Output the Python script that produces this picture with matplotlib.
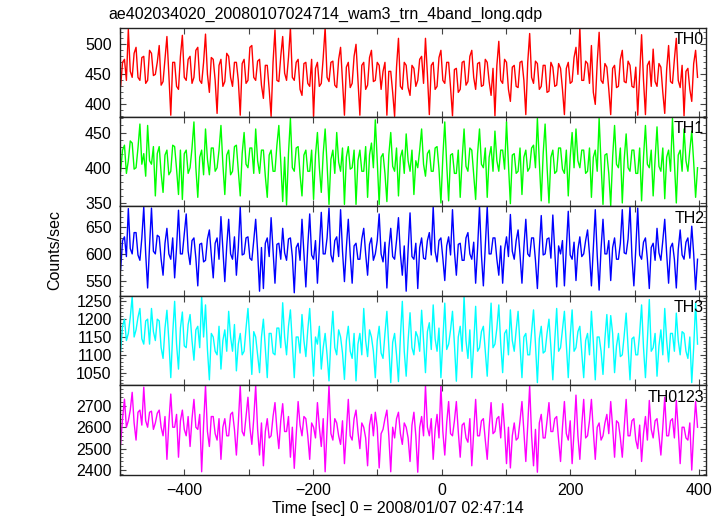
import numpy as np
import matplotlib
matplotlib.use("Agg")
import matplotlib.pyplot as plt
from matplotlib.ticker import MultipleLocator, FixedLocator

plt.rcParams['font.family'] = ['Liberation Sans', 'DejaVu Sans']
plt.rcParams['font.size'] = 11.5

title = "ae402034020_20080107024714_wam3_trn_4band_long.qdp"
xlabel = "Time [sec] 0 = 2008/01/07 02:47:14"
ylabel = "Counts/sec"
names = ["TH0", "TH1", "TH2", "TH3", "TH0123"]
colors = ["#ff0000", "#00ff00", "#0000ff", "#00ffff", "#ff00ff"]

# time span of the light curve (sec), samples evenly spaced
t_start, t_stop = -499, 398

th0 = [430, 470, 475, 440, 525, 455, 445, 485, 495, 445, 440, 478, 480, 435, 440, 490,
       485, 448, 450, 470, 498, 432, 438, 475, 513, 450, 382, 470, 470, 430, 425, 480,
       515, 445, 440, 475, 480, 435, 445, 490, 495, 440, 435, 470, 517, 450, 420, 478,
       475, 440, 385, 465, 475, 430, 438, 485, 480, 445, 430, 470, 470, 440, 382, 468,
       475, 435, 440, 495, 498, 445, 440, 472, 475, 432, 410, 465, 465, 425, 380, 470,
       524, 440, 438, 480, 513, 452, 440, 478, 528, 445, 440, 470, 475, 425, 415, 468,
       470, 435, 430, 475, 380, 460, 470, 430, 435, 478, 528, 445, 438, 470, 472, 432,
       428, 475, 495, 440, 382, 462, 470, 428, 435, 480, 500, 440, 382, 465, 470, 425,
       432, 478, 490, 438, 440, 470, 465, 425, 455, 470, 382, 455, 455, 420, 380, 462,
       510, 430, 425, 470, 465, 428, 415, 465, 460, 430,
       440, 475, 480, 435, 510, 450, 383, 465, 470, 425, 430, 478, 490, 440, 435, 470,
       470, 428, 381, 458, 460, 420, 425, 470, 472, 432, 438, 480, 490, 445, 425, 468,
       470, 430, 432, 475, 470, 438, 415, 460, 381, 465, 505, 440, 435, 475, 470, 425,
       405, 462, 465, 430, 428, 470, 472, 440, 383, 470, 518, 445, 435, 472, 468, 425,
       430, 465, 465, 420, 422, 470, 462, 430, 432, 468, 460, 425, 383, 460, 470, 435,
       438, 478, 495, 450, 528, 440, 440, 472, 468, 435, 498, 420, 400, 470, 520, 440,
       435, 468, 462, 425, 383, 460, 465, 428, 430, 475, 490, 438, 436, 472, 465, 430,
       428, 462, 382, 450, 516, 440, 383, 465, 472, 430, 492, 438, 430, 468, 462, 420,
       385, 458, 498, 438, 435, 475, 510, 440, 428, 465, 381, 455, 460, 425, 405, 468,
       490, 445]

th1 = [395, 425, 432, 392, 410, 438, 435, 398, 400, 428, 462, 405, 420, 388, 460, 410,
       405, 430, 360, 420, 430, 392, 365, 418, 425, 390, 395, 432, 430, 398, 362, 425,
       355, 420, 425, 392, 400, 428, 465, 400, 358, 415, 425, 390, 455, 412, 390, 428,
       428, 395, 400, 425, 460, 405, 362, 418, 425, 390, 395, 430, 432, 395, 360, 420,
       450, 405, 400, 428, 428, 392, 455, 410, 392, 425, 425, 388, 358, 418, 425, 395,
       395, 432, 460, 408, 352, 415, 347, 420, 470, 400, 395, 428, 430, 390, 360, 418,
       425, 395, 395, 425, 355, 418, 450, 400, 365, 420, 455, 405, 348, 412, 425, 392,
       450, 408, 395, 428, 348, 415, 430, 398, 400, 425, 348, 410, 425, 395, 395, 430,
       358, 418, 435, 400, 468, 410, 348, 415, 420, 392, 352, 418, 450, 402, 395, 428,
       360, 415, 425, 392, 448, 410, 395, 425, 362, 410,
       400, 425, 455, 405, 388, 420, 425, 395, 395, 428, 430, 398, 350, 415, 465, 405,
       353, 418, 420, 392, 392, 425, 358, 412, 455, 402, 395, 428, 425, 390, 355, 420,
       455, 405, 400, 428, 358, 415, 430, 395, 452, 410, 395, 425, 425, 398, 465, 405,
       349, 418, 420, 392, 395, 428, 362, 415, 425, 395, 400, 428, 432, 400, 470, 408,
       353, 420, 462, 402, 350, 415, 425, 392, 395, 428, 428, 398, 392, 425, 360, 415,
       450, 400, 455, 410, 400, 425, 425, 392, 395, 428, 358, 415, 425, 395, 470, 405,
       348, 418, 420, 392, 346, 415, 460, 405, 400, 428, 350, 412, 448, 400, 395, 425,
       425, 392, 392, 428, 353, 415, 460, 405, 400, 425, 360, 412, 458, 402, 395, 428,
       356, 415, 425, 395, 470, 408, 350, 418, 425, 395, 455, 410, 395, 425, 452, 408,
       358, 400]

th2 = [570, 625, 632, 595, 685, 610, 600, 640, 640, 598, 588, 630, 688, 600, 536, 615,
       686, 605, 600, 635, 632, 590, 560, 620, 648, 600, 590, 630, 555, 612, 682, 600,
       600, 638, 675, 605, 580, 625, 630, 592, 540, 618, 620, 585, 588, 628, 645, 598,
       555, 620, 630, 590, 670, 608, 548, 615, 665, 600, 590, 632, 560, 612, 688, 598,
       600, 630, 632, 592, 588, 625, 665, 605, 530, 612, 535, 620, 630, 595, 668, 605,
       545, 618, 620, 590, 648, 602, 588, 628, 630, 595, 527, 612, 620, 588, 665, 600,
       538, 615, 675, 598, 590, 625, 545, 610, 678, 600, 600, 630, 686, 598, 585, 625,
       632, 595, 683, 605, 548, 612, 665, 598, 545, 615, 620, 590, 590, 628, 648, 600,
       560, 618, 630, 588, 600, 625, 675, 600, 585, 622, 536, 610, 648, 595, 590, 625,
       668, 600, 560, 615, 530, 608, 677, 595, 590, 620,
       535, 612, 630, 592, 590, 625, 640, 598, 689, 605, 585, 625, 630, 592, 550, 615,
       632, 598, 683, 605, 560, 618, 620, 588, 588, 630, 640, 600, 590, 622, 545, 610,
       689, 598, 540, 615, 689, 600, 600, 630, 630, 590, 560, 615, 545, 608, 632, 595,
       674, 605, 590, 625, 645, 598, 545, 612, 665, 600, 595, 630, 630, 588, 535, 610,
       672, 598, 600, 628, 630, 592, 673, 605, 538, 615, 600, 625, 540, 610, 680, 598,
       590, 622, 550, 608, 632, 595, 600, 625, 645, 600, 540, 612, 683, 598, 532, 610,
       665, 600, 600, 625, 550, 612, 630, 590, 590, 620, 683, 602, 600, 628, 689, 595,
       540, 610, 686, 598, 590, 622, 630, 590, 535, 612, 620, 588, 648, 602, 588, 625,
       665, 600, 545, 612, 620, 590, 536, 608, 645, 598, 590, 622, 630, 592, 652, 600,
       533, 590]

th3 = [1110, 1180, 1200, 1140, 1160, 1205, 1264, 1150, 1170, 1205, 1230, 1145, 1130, 1195,
       1200, 1130, 1230, 1165, 1140, 1200, 1195, 1120, 1090, 1175, 1225, 1140, 1036, 1160,
       1250, 1130, 1060, 1175, 1220, 1125, 1120, 1185, 1213, 1140, 1085, 1170, 1180, 1120,
       1264, 1150, 1240, 1115, 1030, 1160, 1150, 1110, 1100, 1180, 1060, 1140, 1170, 1110,
       1222, 1150, 1110, 1185, 1055, 1130, 1160, 1100, 1110, 1175, 1230, 1140, 1045, 1165,
       1150, 1100, 1050, 1150, 1200, 1120, 1036, 1160, 1160, 1105, 1100, 1175, 1175, 1120,
       1246, 1150, 1100, 1180, 1226, 1130, 1036, 1150, 1150, 1105, 1213, 1140, 1095, 1170,
       1230, 1130, 1040, 1150, 1130, 1180, 1060, 1120, 1160, 1100, 1027, 1145, 1222, 1120,
       1100, 1170, 1150, 1105, 1031, 1140, 1180, 1110, 1090, 1160, 1027, 1130, 1160, 1100,
       1230, 1140, 1095, 1170, 1150, 1110, 1036, 1140, 1180, 1105, 1090, 1160, 1222, 1120,
       1022, 1135, 1160, 1100, 1025, 1150, 1250, 1110, 1040, 1140, 1218, 1120, 1100, 1165,
       1150, 1110, 1225, 1140, 1050, 1165, 1190, 1115, 1240, 1145, 1110, 1175, 1036, 1140,
       1245, 1115, 1130, 1170, 1222, 1130, 1026, 1150, 1180, 1110, 1264, 1140, 1090, 1170,
       1036, 1130, 1236, 1110, 1120, 1165, 1180, 1110, 1040, 1150, 1245, 1120, 1130, 1175,
       1240, 1130, 1050, 1160, 1170, 1100, 1226, 1140, 1110, 1170, 1222, 1125, 1036, 1150,
       1160, 1100, 1100, 1165, 1226, 1130, 1022, 1145, 1180, 1105, 1110, 1160, 1200, 1120,
       1030, 1140, 1230, 1110, 1120, 1170, 1222, 1130, 1036, 1150, 1226, 1110, 1120, 1165,
       1180, 1105, 1036, 1140, 1160, 1100, 1222, 1135, 1030, 1150, 1150, 1110, 1045, 1145,
       1213, 1120, 1210, 1160, 1050, 1125, 1160, 1095, 1100, 1155, 1217, 1120, 1030, 1145,
       1150, 1100, 1100, 1160, 1240, 1120, 1036, 1140, 1255, 1110, 1120, 1160, 1040, 1125,
       1170, 1100, 1230, 1140, 1080, 1160, 1160, 1110, 1217, 1140, 1100, 1165, 1160, 1110,
       1090, 1150, 1022, 1120, 1245, 1130]

th0123 = [2520, 2640, 2731, 2600, 2630, 2680, 2763, 2620, 2540, 2670, 2680, 2610, 2787, 2630,
          2600, 2670, 2675, 2590, 2620, 2665, 2680, 2600, 2560, 2650, 2450, 2620, 2755, 2600,
          2600, 2660, 2460, 2630, 2680, 2590, 2560, 2650, 2510, 2640, 2730, 2600, 2590, 2660,
          2392, 2610, 2795, 2580, 2510, 2650, 2650, 2570, 2540, 2640, 2450, 2600, 2640, 2560,
          2560, 2660, 2670, 2590, 2470, 2620, 2795, 2580, 2560, 2650, 2740, 2600, 2520, 2640,
          2795, 2590, 2470, 2620, 2420, 2580, 2640, 2550, 2560, 2650, 2715, 2590, 2500, 2630,
          2710, 2580, 2580, 2650, 2460, 2600, 2408, 2560, 2720, 2610, 2560, 2650, 2640, 2560,
          2450, 2620, 2600, 2550, 2715, 2600, 2510, 2640, 2392, 2590, 2795, 2570, 2540, 2640,
          2620, 2560, 2520, 2630, 2430, 2580, 2730, 2560, 2540, 2640, 2680, 2580, 2500, 2620,
          2600, 2550, 2420, 2610, 2660, 2560, 2670, 2600, 2410, 2570, 2590, 2640, 2680, 2560,
          2392, 2600, 2550, 2640, 2670, 2570, 2520, 2620, 2600, 2550, 2440, 2610, 2670, 2560,
          2390, 2600, 2650, 2560, 2795, 2600, 2560, 2640, 2450, 2590, 2660, 2550, 2795, 2580,
          2470, 2620, 2720, 2570, 2560, 2630, 2720, 2580, 2460, 2610, 2620, 2550, 2530, 2640,
          2420, 2580, 2730, 2560, 2560, 2630, 2640, 2540, 2450, 2600, 2715, 2570, 2580, 2640,
          2650, 2550, 2710, 2590, 2430, 2600, 2410, 2560, 2620, 2540, 2550, 2630, 2720, 2580,
          2440, 2610, 2795, 2560, 2420, 2590, 2390, 2620, 2660, 2550, 2550, 2630, 2715, 2580,
          2580, 2640, 2650, 2540, 2440, 2600, 2720, 2570, 2540, 2630, 2430, 2580, 2750, 2560,
          2450, 2610, 2730, 2550, 2560, 2630, 2730, 2580, 2450, 2600, 2620, 2540, 2560, 2620,
          2660, 2570, 2720, 2600, 2460, 2630, 2620, 2550, 2460, 2600, 2730, 2560, 2560, 2630,
          2640, 2540, 2500, 2610, 2440, 2570, 2650, 2540, 2725, 2590, 2550, 2630, 2640, 2560,
          2470, 2600, 2740, 2560, 2560, 2630, 2640, 2550, 2725, 2590, 2430, 2600, 2600, 2550,
          2540, 2620, 2400, 2580, 2720, 2600]

series = [th0, th1, th2, th3, th0123]
ylims = [(379, 528), (345, 472), (521, 689), (1014, 1265), (2377, 2795)]
yticks = [[400, 450, 500], [350, 400, 450], [550, 600, 650],
          [1050, 1100, 1150, 1200, 1250], [2400, 2500, 2600, 2700]]
yminor = [10, 10, 10, 10, 20]

fig, axes = plt.subplots(5, 1, sharex=True, figsize=(7.24, 5.16), dpi=100)
fig.subplots_adjust(left=0.1657, right=0.975, top=0.9467, bottom=0.0795, hspace=0)

for ax, y, name, c, yl, yt, ym in zip(axes, series, names, colors, ylims, yticks, yminor):
    t = np.linspace(t_start, t_stop, len(y))
    ax.plot(t, y, color=c, lw=1.0)
    ax.set_ylim(*yl)
    ax.yaxis.set_major_locator(FixedLocator(yt))
    ax.yaxis.set_minor_locator(MultipleLocator(ym))
    ax.text(0.997, 0.95, name, transform=ax.transAxes, ha='right', va='top')
    ax.tick_params(which='both', direction='in', top=True, right=True, color='#444444')
    ax.tick_params(which='major', length=4, width=0.8, pad=6)
    ax.tick_params(axis='x', which='minor', length=4, width=0.8)
    ax.tick_params(axis='y', which='minor', length=2, width=0.6)
    for s in ax.spines.values():
        s.set_linewidth(1.0)
        s.set_color('#222222')

axes[-1].set_xlim(-500, 411)
axes[-1].xaxis.set_major_locator(MultipleLocator(200))
axes[-1].xaxis.set_minor_locator(MultipleLocator(100))

fig.text(108 / 724, 1 - 14 / 516, title, ha='left', va='center')
fig.text(398 / 724, 1 - 508 / 516, xlabel, ha='center', va='center')
fig.text(55 / 724, 1 - 250 / 516, ylabel, ha='center', va='center', rotation=90)

fig.savefig("out.png", dpi=100)
